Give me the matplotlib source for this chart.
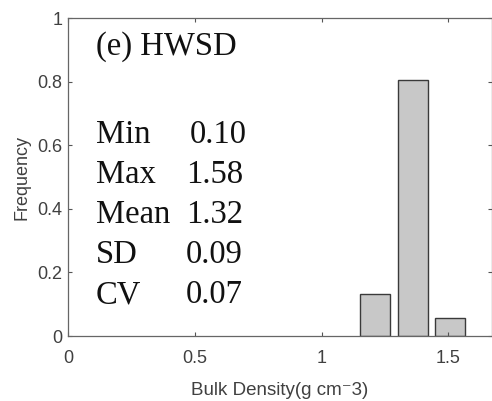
import matplotlib.pyplot as plt

# histogram of HWSD bulk density (bin centres and relative frequency)
bin_centers = [1.21, 1.359, 1.507]
frequency = [0.132, 0.805, 0.056]
bar_width = 0.118

stat_names = ["Min", "Max", "Mean", "SD", "CV"]
stat_values = ["0.10", "1.58", "1.32", "0.09", "0.07"]

x_ticks = [0, 0.5, 1, 1.5]
x_tick_labels = ["0", "0.5", "1", "1.5"]
y_ticks = [0, 0.2, 0.4, 0.6, 0.8, 1]
y_tick_labels = ["0", "0.2", "0.4", "0.6", "0.8", "1"]

plt.rcParams['font.family'] = ['Liberation Sans', 'DejaVu Sans']

fig = plt.figure(figsize=(4.92, 4.01), dpi=100)
ax = fig.add_axes([0.1382, 0.162, 0.861, 0.793])

ax.bar(bin_centers, frequency, width=bar_width, color="#c8c8c8",
       edgecolor="#3a3a3a", linewidth=1.0)

ax.set_xlim(0, 1.67)
ax.set_ylim(0, 1)
ax.set_xticks(x_ticks)
ax.set_xticklabels(x_tick_labels)
ax.set_yticks(y_ticks)
ax.set_yticklabels(y_tick_labels)
ax.tick_params(direction="in", length=3, width=0.8, top=True, right=True,
               labelsize=13, colors="#555555", labelcolor="#404040")
ax.tick_params(axis="x", pad=10)
ax.tick_params(axis="y", pad=4)
for s in ax.spines.values():
    s.set_color("#666666")
    s.set_linewidth(0.9)

ax.set_xlabel("Bulk Density(g cm\u207b3)", fontsize=13.5, color="#404040", labelpad=11)
ax.set_ylabel("Frequency", fontsize=13, color="#404040", labelpad=5)

serif = ["Liberation Serif", "DejaVu Serif"]
fs = 23.5
ax.text(96, 401 - 55, "(e) HWSD", transform=None, family=serif, fontsize=fs,
        color="#111111")
for i, (name, val) in enumerate(zip(stat_names, stat_values)):
    y_px = 401 - (143 + 40 * i)
    ax.text(96, y_px, name, transform=None, family=serif, fontsize=fs, color="#111111")
    x_val = 190 if i == 0 else 186
    ax.text(x_val, y_px, val, transform=None, family=serif, fontsize=fs, color="#111111")

fig.savefig("out.png", dpi=100)
